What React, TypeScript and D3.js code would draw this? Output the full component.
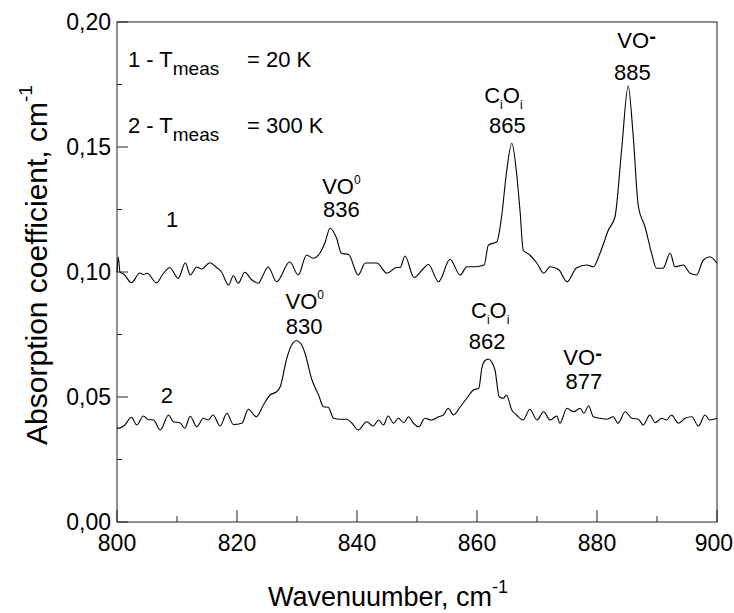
import React from 'react';
import * as d3 from 'd3';

// curve 1 (T = 20 K): wavenumber / absorption pairs
const wn1 = [800, 800.2, 800.5, 801.2, 802.4, 803.8, 804.4, 805.0, 806.6, 807.6, 808.8, 810.2, 811.4, 812.2, 813.3, 814.1, 815.5, 816.5, 817.4, 818.6, 819.4, 820.2, 821.3, 822.4, 823.6, 824.1, 825.2, 826.6, 828.8, 830.2, 831.6, 832.7, 833.8, 834.7, 835.5, 836.6, 837.4, 838.6, 840.2, 841.4, 843.3, 845.0, 846.6, 847.2, 848.0, 849.5, 851.1, 851.9, 853.6, 855.5, 857.2, 858.3, 859.7, 861.2, 861.9, 863.3, 864.1, 864.9, 865.8, 866.6, 867.2, 867.7, 868.8, 870.0, 871.1, 872.2, 873.6, 875.0, 876.6, 878.3, 879.4, 880.5, 881.9, 883.0, 884.1, 885.2, 886.0, 886.9, 888.0, 889.1, 889.9, 891.0, 892.2, 893.0, 894.4, 895.5, 896.6, 897.7, 898.8, 900];
const abs1 = [0.1, 0.106, 0.1, 0.099, 0.0957, 0.0996, 0.099, 0.0995, 0.0957, 0.099, 0.1017, 0.0975, 0.1037, 0.0988, 0.102, 0.1012, 0.1037, 0.102, 0.1001, 0.0948, 0.0985, 0.0955, 0.0999, 0.097, 0.0955, 0.0975, 0.102, 0.0961, 0.1041, 0.0988, 0.1068, 0.1055, 0.1075, 0.112, 0.1175, 0.1135, 0.1075, 0.107, 0.0988, 0.1036, 0.1036, 0.0995, 0.1018, 0.1018, 0.1064, 0.0978, 0.1015, 0.103, 0.0961, 0.1051, 0.0988, 0.1021, 0.1021, 0.1028, 0.1108, 0.1121, 0.1221, 0.1395, 0.1515, 0.1395, 0.1236, 0.1088, 0.1068, 0.1035, 0.0995, 0.1021, 0.101, 0.0961, 0.1017, 0.1028, 0.1021, 0.1075, 0.1168, 0.1221, 0.1488, 0.1744, 0.1555, 0.1261, 0.1181, 0.1075, 0.1015, 0.1015, 0.1075, 0.1021, 0.1028, 0.0995, 0.0988, 0.1047, 0.1061, 0.1035];

// curve 2 (T = 300 K)
const wn2 = [800, 800.2, 801.3, 802.4, 803.3, 804.4, 805.2, 806.1, 807.2, 808.6, 809.4, 810.5, 811.3, 812.2, 813.3, 814.4, 815.2, 816.0, 817.2, 818.3, 819.4, 820.8, 821.9, 823.2, 824.4, 825.5, 826.6, 827.2, 828.3, 829.1, 829.9, 830.8, 831.5, 832.4, 833.6, 834.4, 835.2, 836.1, 837.2, 838.3, 839.1, 840.2, 841.6, 842.7, 843.6, 844.4, 845.2, 846.1, 846.9, 847.8, 848.6, 849.4, 850.3, 851.3, 852.4, 853.6, 854.4, 855.2, 856.1, 857.2, 858.3, 859.4, 860.3, 860.8, 861.3, 861.9, 862.4, 863.0, 863.7, 864.4, 864.9, 865.8, 866.6, 867.7, 868.8, 870.0, 871.1, 872.2, 873.3, 873.8, 875.0, 876.1, 877.2, 877.8, 878.6, 879.4, 880.5, 881.6, 882.7, 883.5, 884.7, 885.8, 886.9, 887.7, 888.8, 889.7, 890.8, 891.6, 892.4, 893.6, 894.7, 895.8, 896.9, 898.0, 898.8, 900];
const abs2 = [0.0378, 0.0375, 0.0388, 0.0419, 0.0388, 0.0424, 0.041, 0.0408, 0.0368, 0.0428, 0.0401, 0.0397, 0.0375, 0.0423, 0.0381, 0.0415, 0.0408, 0.0428, 0.0384, 0.0435, 0.039, 0.0395, 0.0451, 0.0421, 0.0468, 0.0508, 0.0521, 0.0541, 0.0655, 0.0708, 0.0725, 0.0708, 0.0661, 0.0575, 0.0508, 0.0461, 0.0459, 0.0415, 0.0411, 0.0411, 0.0397, 0.0368, 0.0401, 0.0384, 0.0408, 0.0388, 0.0424, 0.0395, 0.0415, 0.0397, 0.0421, 0.0395, 0.0381, 0.0415, 0.0408, 0.0421, 0.0428, 0.0455, 0.0428, 0.0461, 0.0495, 0.0528, 0.0535, 0.0615, 0.0645, 0.0652, 0.0642, 0.0608, 0.0501, 0.0495, 0.0508, 0.0448, 0.0428, 0.0408, 0.0451, 0.0408, 0.0441, 0.0408, 0.0424, 0.0395, 0.0455, 0.0441, 0.0455, 0.0435, 0.0464, 0.0421, 0.0415, 0.0411, 0.0421, 0.0395, 0.0441, 0.0415, 0.0411, 0.0388, 0.0428, 0.0397, 0.0415, 0.0408, 0.0428, 0.0395, 0.0415, 0.0421, 0.0384, 0.0428, 0.0408, 0.0415];

const xMajor = [800, 820, 840, 860, 880, 900];
const xMinor = [810, 830, 850, 870, 890];
const yMajor = [0, 0.05, 0.1, 0.15, 0.2];
const yMinor = [0.025, 0.075, 0.125, 0.175];
const yTickLabels = ['0,00', '0,05', '0,10', '0,15', '0,20'];

// peak annotations: species, number, and where label / number sit (data units)
const peakKind = ['VO0', 'CiOi', 'VO-', 'VO0', 'CiOi', 'VO-'];
const peakNum = ['836', '865', '885', '830', '862', '877'];
const peakLabelX = [837.4, 864.4, 886.6, 831.3, 862.2, 877.6];
const peakNumX = [837.4, 865.05, 885.9, 831.2, 861.7, 877.8];
const peakLabelY = [0.1312, 0.1675, 0.1895, 0.0852, 0.0816, 0.0628];
const peakNumY = [0.1221, 0.1555, 0.1768, 0.0752, 0.0692, 0.0532];

const W = 734;
const H = 613;
const margin = { top: 22, right: 17, bottom: 91, left: 117 };
const font = 'Arial, "Liberation Sans", sans-serif';

const PeakLabel = ({ kind, x, y }: { kind: string; x: number; y: number }) => {
  if (kind === 'CiOi') {
    return (
      <text x={x} y={y} textAnchor="middle" fontSize={22}>
        <tspan>C</tspan>
        <tspan fontSize={12} dy={6}>i</tspan>
        <tspan dy={-6}>O</tspan>
        <tspan fontSize={12} dy={6}>i</tspan>
      </text>
    );
  }
  if (kind === 'VO0') {
    return (
      <text x={x} y={y} textAnchor="middle" fontSize={22}>
        <tspan>VO</tspan>
        <tspan fontSize={12} dy={-10}>0</tspan>
      </text>
    );
  }
  return (
    <text x={x} y={y} textAnchor="middle" fontSize={22}>
      <tspan>VO</tspan>
      <tspan fontSize={20} fontWeight="bold" dy={-5}>-</tspan>
    </text>
  );
};

export default function App() {
  const x = d3.scaleLinear().domain([800, 900]).range([margin.left, W - margin.right]);
  const y = d3.scaleLinear().domain([0, 0.2]).range([H - margin.bottom, margin.top]);

  const line = d3
    .line<number>()
    .x((d) => x(d))
    .curve(d3.curveMonotoneX);

  const path1 = line.y((_, i) => y(abs1[i]))(wn1) || '';
  const path2 = line.y((_, i) => y(abs2[i]))(wn2) || '';

  const x0 = x(800);
  const y0 = y(0);

  return (
    <svg
      width={W}
      height={H}
      style={{ position: 'absolute', left: 0, top: 0, background: '#fff' }}
      fontFamily={font}
      fill="#000"
    >
      {/* frame */}
      <rect
        x={x0}
        y={y(0.2)}
        width={x(900) - x0}
        height={y0 - y(0.2)}
        fill="none"
        stroke="#222"
        strokeWidth={1}
      />

      {/* x ticks, inside */}
      {xMajor.map((t) => (
        <line key={'xm' + t} x1={x(t)} x2={x(t)} y1={y0} y2={y0 - 12} stroke="#222" />
      ))}
      {xMinor.map((t) => (
        <line key={'xn' + t} x1={x(t)} x2={x(t)} y1={y0} y2={y0 - 6} stroke="#222" />
      ))}
      {xMajor.map((t, i) => {
        const last = i === xMajor.length - 1;
        return (
          <text
            key={'xl' + t}
            x={last ? W - 1 : x(t)}
            y={y0 + 29}
            textAnchor={last ? 'end' : 'middle'}
            fontSize={23}
          >
            {t}
          </text>
        );
      })}

      {/* y ticks, inside */}
      {yMajor.map((t) => (
        <line key={'ym' + t} x1={x0} x2={x0 + 11} y1={y(t)} y2={y(t)} stroke="#222" />
      ))}
      {yMinor.map((t) => (
        <line key={'yn' + t} x1={x0} x2={x0 + 5} y1={y(t)} y2={y(t)} stroke="#222" />
      ))}
      {yMajor.map((t, i) => (
        <text key={'yl' + t} x={x0 - 6} y={y(t) + 8} textAnchor="end" fontSize={23}>
          {yTickLabels[i]}
        </text>
      ))}

      {/* spectra */}
      <path d={path1} fill="none" stroke="#000" strokeWidth={1.1} />
      <path d={path2} fill="none" stroke="#000" strokeWidth={1.1} />

      {/* curve numbers */}
      <text x={x(809.17)} y={y(0.118)} textAnchor="middle" fontSize={22}>1</text>
      <text x={x(808.33)} y={y(0.0477)} textAnchor="middle" fontSize={22}>2</text>

      {/* legend */}
      <text x={x(801.83)} y={y(0.182)} fontSize={22}>
        <tspan>1 - T</tspan>
        <tspan fontSize={19} dy={8}>meas</tspan>
      </text>
      <text x={x(821.67)} y={y(0.182)} fontSize={22}>= 20 K</text>
      <text x={x(801.83)} y={y(0.1556)} fontSize={22}>
        <tspan>2 - T</tspan>
        <tspan fontSize={19} dy={8}>meas</tspan>
      </text>
      <text x={x(821.67)} y={y(0.1556)} fontSize={22}>= 300 K</text>

      {/* peak annotations */}
      {peakKind.map((k, i) => (
        <g key={'pk' + i}>
          <PeakLabel kind={k} x={x(peakLabelX[i])} y={y(peakLabelY[i])} />
          <text x={x(peakNumX[i])} y={y(peakNumY[i])} textAnchor="middle" fontSize={22}>
            {peakNum[i]}
          </text>
        </g>
      ))}

      {/* axis titles */}
      <text x={268} y={606} fontSize={27}>
        <tspan>Wavenuumber, cm</tspan>
        <tspan fontSize={18} dy={-13}>-1</tspan>
      </text>
      <text transform="rotate(-90)" x={-265} y={47} textAnchor="middle" fontSize={30}>
        <tspan>Absorption  coefficient, cm</tspan>
        <tspan fontSize={19} dy={-15}>-1</tspan>
      </text>
    </svg>
  );
}
